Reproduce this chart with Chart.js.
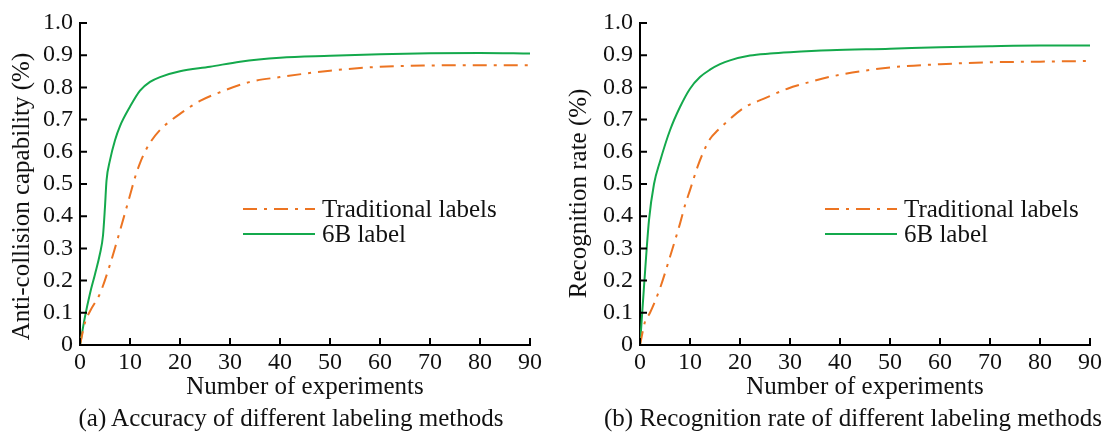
<!DOCTYPE html>
<html>
<head>
<meta charset="utf-8">
<script src="https://cdn.jsdelivr.net/npm/chart.js@4/dist/chart.umd.min.js"></script>
<style>
  body { margin: 0; background: #fff; width: 1111px; height: 433px; position: relative; overflow: hidden; }
  .panel { position: absolute; top: 0; }
  .caption { position: absolute; top: 403px; font: 25px/30px "Liberation Serif", "Times New Roman", serif; color: #111; white-space: nowrap; transform: translateX(-50%); }
</style>
</head>
<body>
<div class="panel" style="left:0"><canvas id="chartA" width="555" height="405"></canvas></div>
<div class="panel" style="left:555px"><canvas id="chartB" width="556" height="405"></canvas></div>
<div class="caption" style="left:291px">(a) Accuracy of different labeling methods</div>
<div class="caption" style="left:853px">(b) Recognition rate of different labeling methods</div>
<script>
// tick labels
const xTicks = [0, 10, 20, 30, 40, 50, 60, 70, 80, 90];
const yTicks = [0, 0.1, 0.2, 0.3, 0.4, 0.5, 0.6, 0.7, 0.8, 0.9, 1.0];
const seriesNames = ['Traditional labels', '6B label'];

// (a) anti-collision capability
const aTradX = [0, 1, 2, 4, 6, 8, 10, 11, 12, 13, 14, 16, 18, 20, 24, 28, 34, 40, 50, 60, 70, 80, 90];
const aTradY = [0, 0.07, 0.105, 0.16, 0.25, 0.355, 0.465, 0.52, 0.565, 0.6, 0.628, 0.668, 0.695, 0.718, 0.758, 0.785, 0.817, 0.832, 0.852, 0.864, 0.868, 0.869, 0.869];
const a6bX = [0, 1, 2, 3, 4, 4.6, 5, 5.3, 6, 7, 8, 10, 12, 14, 16, 20, 26, 32, 40, 50, 60, 70, 80, 90];
const a6bY = [0, 0.088, 0.16, 0.22, 0.284, 0.34, 0.43, 0.51, 0.574, 0.636, 0.68, 0.74, 0.79, 0.817, 0.832, 0.85, 0.864, 0.88, 0.892, 0.898, 0.903, 0.906, 0.907, 0.905];

// (b) recognition rate
const bTradX = [0, 1, 2, 4, 6, 8, 9, 10, 11.5, 12.5, 14, 15.5, 17, 20.8, 24.8, 29.5, 34, 38, 50, 60, 70, 80, 90];
const bTradY = [0, 0.072, 0.1, 0.176, 0.274, 0.377, 0.434, 0.481, 0.553, 0.593, 0.64, 0.666, 0.688, 0.737, 0.765, 0.796, 0.817, 0.833, 0.862, 0.872, 0.878, 0.88, 0.882];
const b6bX = [0, 0.8, 1.8, 2.8, 4, 6, 8, 10, 12, 14, 16, 18, 22, 26, 30, 38, 50, 60, 70, 80, 90];
const b6bY = [0, 0.181, 0.388, 0.5, 0.57, 0.667, 0.739, 0.796, 0.832, 0.855, 0.872, 0.884, 0.899, 0.905, 0.909, 0.915, 0.92, 0.925, 0.928, 0.93, 0.93];

const FONT = '"Liberation Serif", "Times New Roman", serif';
const ORANGE = '#ec7422';
const GREEN = '#14a94c';

const zip = (xs, ys) => xs.map((x, i) => ({ x: x, y: ys[i] }));

// inward ticks + legend inside the plot
const paperStyle = {
  id: 'paperStyle',
  afterDatasetsDraw(chart, args, opts) {
    const ctx = chart.ctx;
    const area = chart.chartArea;
    const xs = chart.scales.x, ys = chart.scales.y;
    ctx.save();
    ctx.strokeStyle = '#000';
    ctx.lineWidth = 2;
    ctx.beginPath();
    xs.ticks.forEach(t => {
      const px = xs.getPixelForValue(t.value);
      ctx.moveTo(px, area.bottom);
      ctx.lineTo(px, area.bottom - 7);
    });
    ys.ticks.forEach(t => {
      const py = ys.getPixelForValue(t.value);
      ctx.moveTo(area.left, py);
      ctx.lineTo(area.left + 7, py);
    });
    ctx.stroke();

    // legend
    ctx.font = '25px ' + FONT;
    ctx.textBaseline = 'middle';
    ctx.fillStyle = '#111';
    chart.data.datasets.forEach((ds, i) => {
      const y = opts.top + i * 25;
      const x0 = area.left + opts.left;
      ctx.strokeStyle = ds.borderColor;
      ctx.lineWidth = ds.borderWidth;
      ctx.setLineDash(ds.borderDash || []);
      ctx.beginPath();
      ctx.moveTo(x0, y);
      ctx.lineTo(x0 + 72, y);
      ctx.stroke();
      ctx.setLineDash([]);
      ctx.fillText(ds.label, x0 + 79, y + 1);
    });
    ctx.restore();
  }
};

function makeChart(id, title, trad, sixb, yWidth, padRight, yTitlePad, legendLeft) {
  new Chart(document.getElementById(id), {
    type: 'line',
    data: {
      datasets: [
        { label: seriesNames[0], data: trad, borderColor: ORANGE, borderWidth: 2, borderDash: [14, 7, 3, 7] },
        { label: seriesNames[1], data: sixb, borderColor: GREEN, borderWidth: 2 }
      ]
    },
    options: {
      responsive: false,
      animation: false,
      layout: { padding: { top: 23, right: padRight, bottom: 3, left: 0 } },
      elements: {
        point: { radius: 0 },
        line: { tension: 0.4, cubicInterpolationMode: 'monotone', fill: false }
      },
      plugins: {
        legend: { display: false },
        tooltip: { enabled: false },
        paperStyle: { left: legendLeft, top: 209 }
      },
      scales: {
        x: {
          type: 'linear', min: 0, max: 90,
          afterFit: s => { s.height = 57; },
          afterBuildTicks: s => { s.ticks = xTicks.map(v => ({ value: v })); },
          grid: { display: false, drawTicks: false },
          border: { display: true, color: '#000', width: 2 },
          ticks: { padding: 3, color: '#111', font: { family: FONT, size: 24 }, maxRotation: 0 },
          title: { display: true, text: 'Number of experiments', color: '#111', padding: 0, font: { family: FONT, size: 25 } }
        },
        y: {
          min: 0, max: 1,
          afterFit: s => { s.width = yWidth; },
          afterBuildTicks: s => { s.ticks = yTicks.map(v => ({ value: v })); },
          grid: { display: false, drawTicks: false },
          border: { display: true, color: '#000', width: 2 },
          ticks: {
            padding: 7, color: '#111', font: { family: FONT, size: 24 },
            callback: v => v === 0 ? '0' : v.toFixed(1)
          },
          title: { display: true, text: title, color: '#111', padding: yTitlePad, font: { family: FONT, size: 25 } }
        }
      }
    },
    plugins: [paperStyle]
  });
}

// trailing spaces nudge the rotated titles down a little, as in the figure
makeChart('chartA', 'Anti-collision capability (%)    ', zip(aTradX, aTradY), zip(a6bX, a6bY), 80, 25, 7, 163);
makeChart('chartB', 'Recognition rate (%)   ', zip(bTradX, bTradY), zip(b6bX, b6bY), 85, 21, 9, 185);
</script>
</body>
</html>
